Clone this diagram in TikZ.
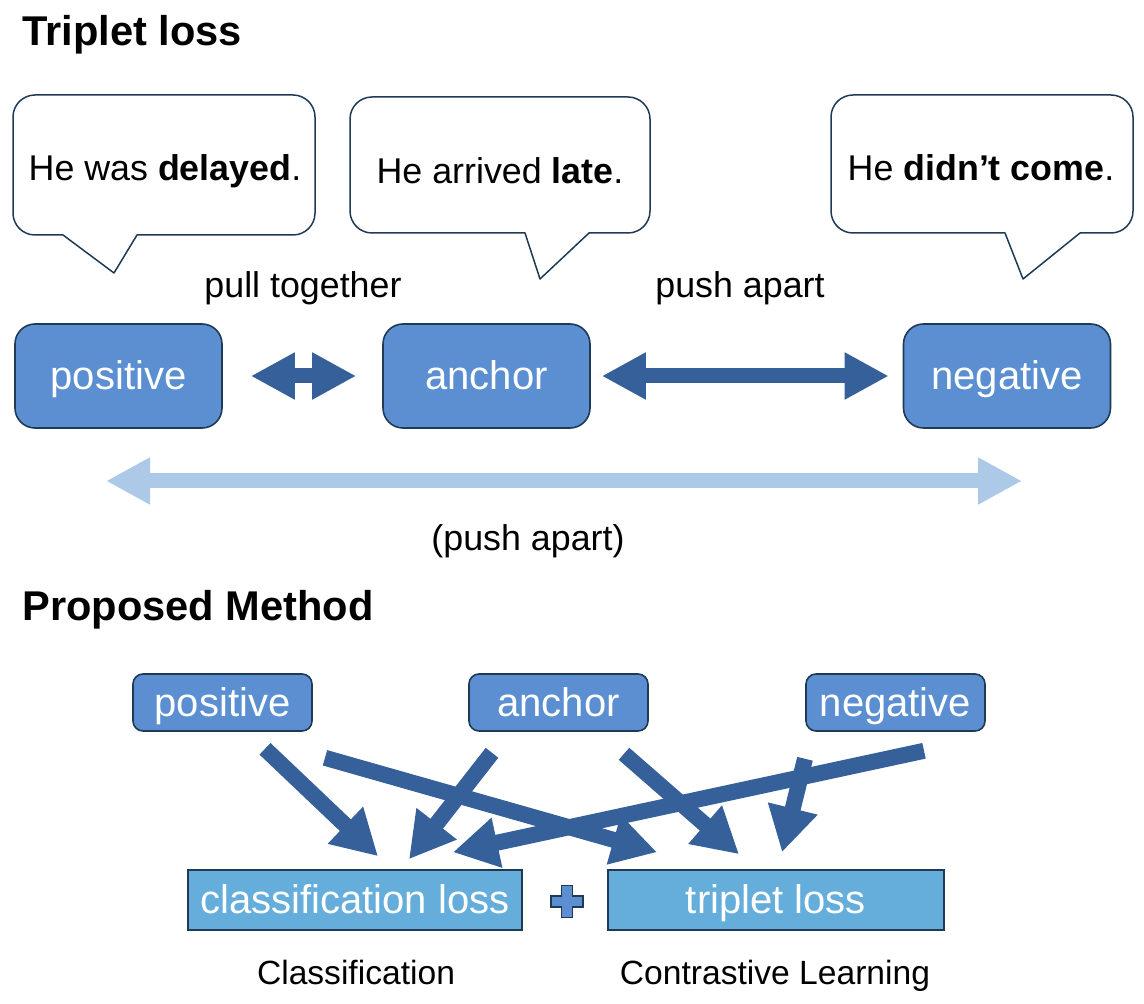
\documentclass[tikz,border=0pt]{standalone}
\usepackage{fontspec}
\setmainfont{Liberation Sans}
\usetikzlibrary{arrows.meta,calc}

\definecolor{boxblue}{HTML}{5B8FD1}
\definecolor{lossblue}{HTML}{65AEDC}
\definecolor{edgenavy}{HTML}{1E3A55}
\definecolor{arrowblue}{HTML}{35609A}
\definecolor{paleblue}{HTML}{ADC9E8}

\tikzset{
  title/.style={anchor=base west, inner sep=0pt, font=\bfseries\fontsize{20.8}{25}\selectfont},
  saying/.style={anchor=base, font=\fontsize{17.9}{21}\selectfont},
  lbl/.style={anchor=base, font=\fontsize{17.9}{21}\selectfont},
  note/.style={anchor=base, font=\fontsize{16.8}{20}\selectfont},
  bubble/.style={draw=edgenavy, line width=0.75pt, fill=white, line join=round},
  bigbox/.style={draw=edgenavy, line width=0.8pt, fill=boxblue, rounded corners=10pt,
    inner sep=0pt, text height=15pt, text depth=1.5pt,
    minimum width=103.5pt, minimum height=52pt, text=white,
    font=\fontsize{20}{24}\selectfont},
  smallbox/.style={bigbox, rounded corners=5pt, minimum width=89.5pt, minimum height=28.5pt},
  lossbox/.style={bigbox, rounded corners=0pt, fill=lossblue,
    minimum width=167pt, minimum height=30pt},
  plusmark/.style={draw=edgenavy, line width=0.7pt, fill=boxblue},
  dblarrow/.style={arrowblue, line width=7.5pt, {Triangle[length=22pt,width=22pt]}-{Triangle[length=22pt,width=22pt]}},
  widearrow/.style={dblarrow, paleblue},
  feed/.style={arrowblue, line width=8pt, -{Triangle[length=22.5pt,width=24pt]}}
}

% rounded speech bubble: left, top, right, bottom, tail base 1, tail base 2, tip x, tip y
\newcommand{\speech}[8]{%
  \draw[bubble] (#5,#4) -- (#7,#8) -- (#6,#4) -- (#3-22,#4)
    arc[start angle=-90, end angle=0, radius=11pt] -- (#3,#2+22)
    arc[start angle=0, end angle=90, radius=11pt] -- (#1+22,#2)
    arc[start angle=90, end angle=180, radius=11pt] -- (#1,#4-22)
    arc[start angle=180, end angle=270, radius=11pt] -- cycle;}

\begin{document}
\begin{tikzpicture}[x=0.5pt, y=-0.5pt]
  \useasboundingbox (0,0) rectangle (1144,1004);

  % Triplet loss
  \node[title] (title1) at (22,46) {Triplet loss};

  \speech{13}{95}{315}{235}{63}{137}{114}{273}
  \speech{350}{97}{650}{233}{525}{589}{540}{279}
  \speech{831}{95}{1133}{233}{1005}{1080}{1023}{279}
  \node[saying] (say1) at (165,181) {He was \textbf{delayed}.};
  \node[saying] (say2) at (500,184) {He arrived \textbf{late}.};
  \node[saying] (say3) at (981,181) {He \textbf{didn’t come}.};

  \node[lbl] (pull) at (303,298) {pull together};
  \node[lbl] (push) at (740,298) {push apart};

  \node[bigbox] (pos1) at (118.5,376) {positive};
  \node[bigbox] (anc1) at (486.5,376) {anchor};
  \node[bigbox] (neg1) at (1007,376) {negative};

  \draw[dblarrow, shorten <=14pt, shorten >=13pt] (pos1) -- (anc1);
  \draw[dblarrow, shorten <=5.5pt, shorten >=7pt] (anc1) -- (neg1);

  \coordinate (wideL) at (106,481);
  \coordinate (wideR) at (1022,481);
  \draw[widearrow] (wideL) -- (wideR);
  \node[lbl] (push2) at (528,551) {(push apart)};

  % Proposed Method
  \node[title] (title2) at (22,620) {Proposed Method};

  \node[smallbox] (pos2) at (222.5,702.5) {positive};
  \node[smallbox] (anc2) at (558.5,702.5) {anchor};
  \node[smallbox] (neg2) at (895.5,702.5) {negative};

  \node[lossbox] (cls) at (355,900) {classification loss};
  \node[lossbox, minimum width=168pt] (trip) at (776,900) {triplet loss};

  \draw[feed] ($(pos2.south)+(42.5,17)$) -- ($(cls.north)+(23,-13)$);
  \draw[feed] ($(pos2.south)+(102.5,26)$) -- ($(trip.north)+(-119,-17)$);
  \draw[feed] ($(anc2.south)+(-66.5,21)$) -- ($(cls.north)+(54,-10)$);
  \draw[feed] ($(anc2.south)+(65.5,22)$) -- ($(trip.north)+(-37,-15)$);
  \draw[feed] ($(neg2.south)+(28.5,19)$) -- ($(cls.north)+(98,-17)$);
  \draw[feed] ($(neg2.south)+(-90.5,27)$) -- ($(trip.north)+(6,-17)$);

  \draw[plusmark] (561.5,885.5) -- (572.5,885.5) -- (572.5,896) -- (583,896)
    -- (583,907) -- (572.5,907) -- (572.5,917.5) -- (561.5,917.5)
    -- (561.5,907) -- (551,907) -- (551,896) -- (561.5,896) -- cycle;

  \node[note] (clsnote) at (356,984) {Classification};
  \node[note] (trinote) at (775,984) {Contrastive Learning};
\end{tikzpicture}
\end{document}
